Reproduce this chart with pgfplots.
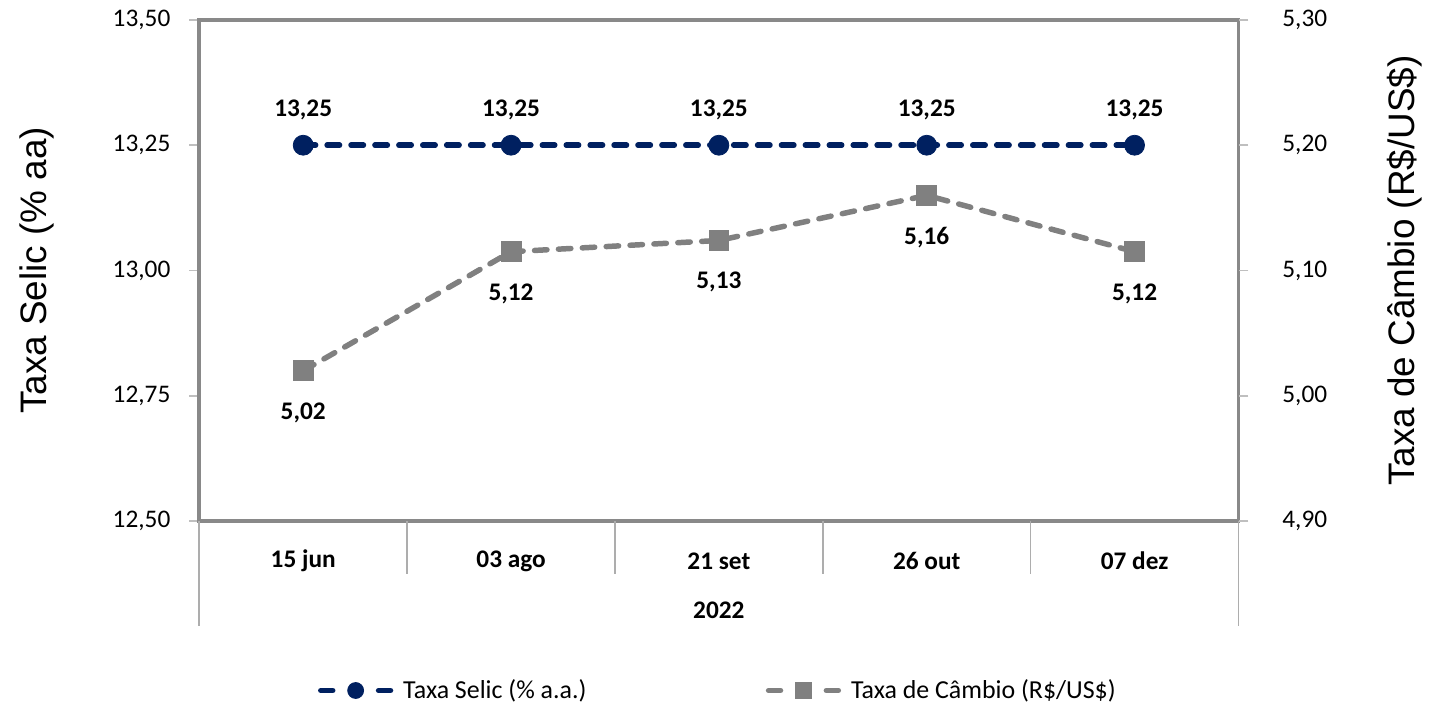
\documentclass[border=0pt]{standalone}
\usepackage{fontspec}
\setmainfont{Carlito}
\newfontfamily\arialfont{Liberation Sans}
\usepackage{pgfplots}
\pgfplotsset{compat=1.18}

\definecolor{selic}{HTML}{002060}
\definecolor{cambio}{HTML}{808080}
\definecolor{framec}{HTML}{898989}
\definecolor{tickc}{HTML}{BFBFBF}
\definecolor{sepc}{HTML}{ADADAD}

\newcommand{\lblfont}{\fontsize{12.7}{15}\selectfont}

\pgfplotstableread{
x y lab
0 13.25 13,25
1 13.25 13,25
2 13.25 13,25
3 13.25 13,25
4 13.25 13,25
}\selic

\pgfplotstableread{
x y lab
0 5.020 5,02
1 5.115 5,12
2 5.124 5,13
3 5.160 5,16
4 5.115 5,12
}\cambio

\pgfplotsset{
  base/.style={
    scale only axis, width=521.5pt, height=251.5pt,
    xmin=-0.5, xmax=4.5, clip=false,
    tick align=outside, major tick length=5pt,
    tick style={tickc, line width=0.8pt},
    /pgf/number format/assume math mode=true,
    yticklabel style={font=\lblfont,
      /pgf/number format/fixed, /pgf/number format/fixed zerofill,
      /pgf/number format/precision=2, /pgf/number format/use comma},
    ylabel style={font=\arialfont\fontsize{18.5}{22}\selectfont, anchor=center},
  },
  serie/.style={line width=2.75pt, dash pattern=on 6.25pt off 5.75pt, line cap=round,
    mark options={solid, line width=0.4pt},
    nodes near coords, point meta=explicit symbolic},
}

\begin{document}
\begin{tikzpicture}
\begin{axis}[base,
  name=main,
  ymin=12.5, ymax=13.5, ytick={12.5,12.75,13,13.25,13.5},
  ytick pos=left,
  yticklabel style={xshift=-6pt},
  axis line style={framec, line width=2pt},
  xtick={0,1,2,3,4},
  xticklabels={15 jun, 03 ago, 21 set, 26 out, 07 dez},
  xtick style={draw=none},
  xticklabel style={font=\bfseries\lblfont, anchor=center, yshift=-15pt},
  ylabel={Taxa Selic (\% aa)},
  ylabel style={at={([xshift=-81.5pt]axis description cs:0,0.5)}},
]
\addplot[serie, selic, mark=*, mark size=5pt,
  every node near coord/.append style={font=\bfseries\lblfont, text=black, anchor=center, yshift=17.5pt}]
  table[x=x, y=y, meta=lab] {\selic};
\draw[sepc, line width=0.8pt] (axis cs:0.5,12.5) -- ([yshift=-26.5pt]axis cs:0.5,12.5);
\draw[sepc, line width=0.8pt] (axis cs:1.5,12.5) -- ([yshift=-26.5pt]axis cs:1.5,12.5);
\draw[sepc, line width=0.8pt] (axis cs:2.5,12.5) -- ([yshift=-26.5pt]axis cs:2.5,12.5);
\draw[sepc, line width=0.8pt] (axis cs:3.5,12.5) -- ([yshift=-26.5pt]axis cs:3.5,12.5);
\draw[sepc, line width=0.8pt] (axis cs:-0.5,12.5) -- ([yshift=-52.5pt]axis cs:-0.5,12.5);
\draw[sepc, line width=0.8pt] (axis cs:4.5,12.5) -- ([yshift=-52.5pt]axis cs:4.5,12.5);
\node[font=\bfseries\lblfont] at ([yshift=-45pt]axis cs:2,12.5) {2022};
\coordinate (bbsw) at ([xshift=-100pt, yshift=-92pt]rel axis cs:0,0);
\coordinate (bbne) at ([xshift=93pt, yshift=10pt]rel axis cs:1,1);
\end{axis}
\begin{axis}[base,
  axis y line*=right, axis x line=none,
  axis line style={draw=none},
  ymin=4.9, ymax=5.3, ytick={4.9,5.0,5.1,5.2,5.3},
  yticklabel style={xshift=13.5pt},
  ylabel={Taxa de Câmbio (R\$/US\$)},
  ylabel style={at={([xshift=83.5pt]axis description cs:1,0.5)}},
  legend columns=2,
  legend style={at={(0.5,-0.338)}, anchor=center, draw=none, fill=none,
    font=\fontsize{13}{15}\selectfont,
    /tikz/every odd column/.append style={column sep=3pt},
    /tikz/every even column/.append style={column sep=88pt}},
  legend image code/.code={
    \draw[#1, dash pattern=on 6pt off 23pt on 6pt, mark=none] (0pt,0pt) -- (35pt,0pt);
    \draw[#1, only marks, mark size=4pt] plot coordinates {(17.5pt,0pt)};
  },
]
\addlegendimage{serie, selic, mark=*, nodes near coords=}
\addlegendentry{Taxa Selic (\% a.a.)}
\addplot[serie, cambio, mark=square*, mark size=5pt,
  every node near coord/.append style={font=\bfseries\lblfont, text=black, anchor=center, yshift=-21pt}]
  table[x=x, y=y, meta=lab] {\cambio};
\addlegendentry{Taxa de Câmbio (R\$/US\$)}
\end{axis}
\path (bbsw) rectangle (bbne);
\end{tikzpicture}
\end{document}
